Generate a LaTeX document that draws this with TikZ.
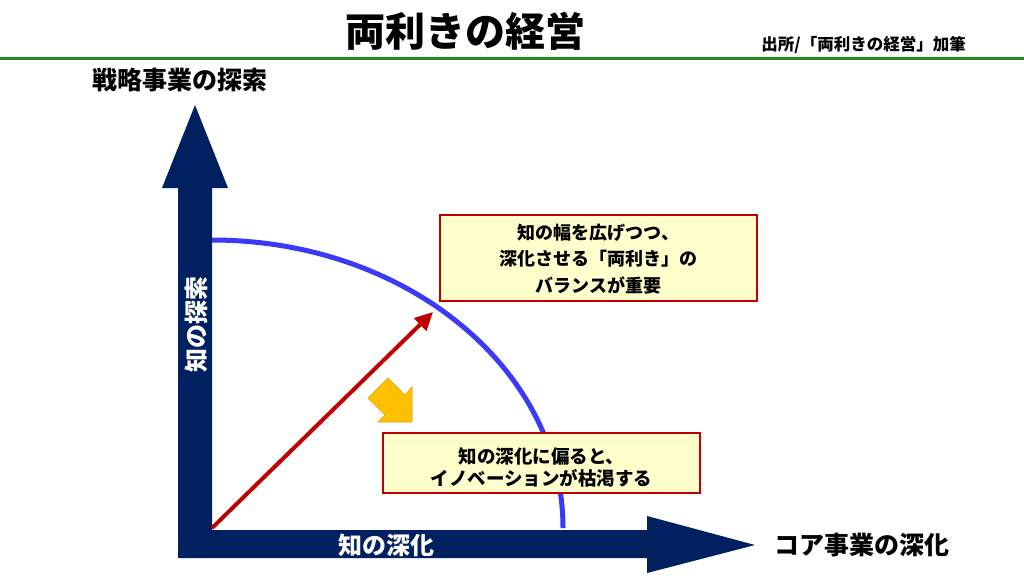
\documentclass[tikz,border=0pt]{standalone}
\usepackage{fontspec}
\setmainfont{Noto Sans CJK JP}
\usetikzlibrary{arrows.meta}
\definecolor{navy}{HTML}{002060}
\definecolor{darkred}{HTML}{C00000}
\definecolor{boxfill}{HTML}{FFFFCC}
\definecolor{curveblue}{HTML}{3A3AF8}
\definecolor{titlegreen}{RGB}{34,139,34}
\definecolor{gold}{HTML}{FFC000}
\definecolor{golddark}{HTML}{D9A300}
\begin{document}
\begin{tikzpicture}[x=1pt,y=-1pt,
  lbl/.style={font=\bfseries\fontsize{#1}{#1}\selectfont, inner sep=0pt},
  notebox/.style={draw=darkred, line width=2.5pt, fill=boxfill, inner sep=0pt, align=center},
  axis/.style={fill=navy},
  ]
\useasboundingbox (0,0) rectangle (1024,576);
\fill[white] (0,0) rectangle (1024,576);
% title and rule
\node[lbl=40] (title) at (465,31) {両利きの経営};
\node[lbl=16.5, anchor=east] (src) at (966,45) {出所/「両利きの経営」加筆};
\draw[titlegreen, line width=3pt] (0,58) -- (1024,58);
% axes
\fill[axis] (178,558) -- (178,188) -- (162,188) -- (195,105) -- (228,188) -- (212,188) -- (212,530)
  -- (647,530) -- (647,516) -- (755,545) -- (647,573) -- (647,558) -- cycle;
\node[lbl=25] (ytitle) at (180,80) {戦略事業の探索};
\node[lbl=25] (xtitle) at (862,545) {コア事業の深化};
\node[lbl=24, text=white, rotate=90] (ylab) at (196,324) {知の探索};
\node[lbl=24, text=white] (xlab) at (386,545) {知の深化};
% frontier curve
\coordinate (c0) at (212,240);
\coordinate (c1) at (563,528);
\draw[curveblue, line width=5pt] (c0) .. controls (406,240) and (563,369) .. (c1);
% red arrow
\coordinate (origin) at (212,528);
\coordinate (tipr) at (433,312);
\draw[darkred, line width=4pt, -{Triangle[length=18pt,width=17pt]}] (origin) -- (tipr);
% yellow block arrow
\filldraw[fill=gold, draw=golddark, line width=0.6pt]
  (388,378) -- (405,395) -- (412,387) -- (412,422) -- (378,422) -- (385,415) -- (368,398) -- cycle;
% boxes
\node[notebox, minimum width=317pt, minimum height=86pt] (box1) at (598.5,258) {};
\node[lbl=18, align=center] (t1) at (598.5,259) {知の幅を広げつつ、\\[8.5pt]深化させる「両利き」の\\[8.5pt]バランスが重要};
\node[notebox, minimum width=317pt, minimum height=60pt] (box2) at (541.5,463) {};
\node[lbl=18.5, align=center] (t2) at (541.5,467) {知の深化に偏ると、\\[3.5pt]イノベーションが枯渇する};
\end{tikzpicture}
\end{document}
